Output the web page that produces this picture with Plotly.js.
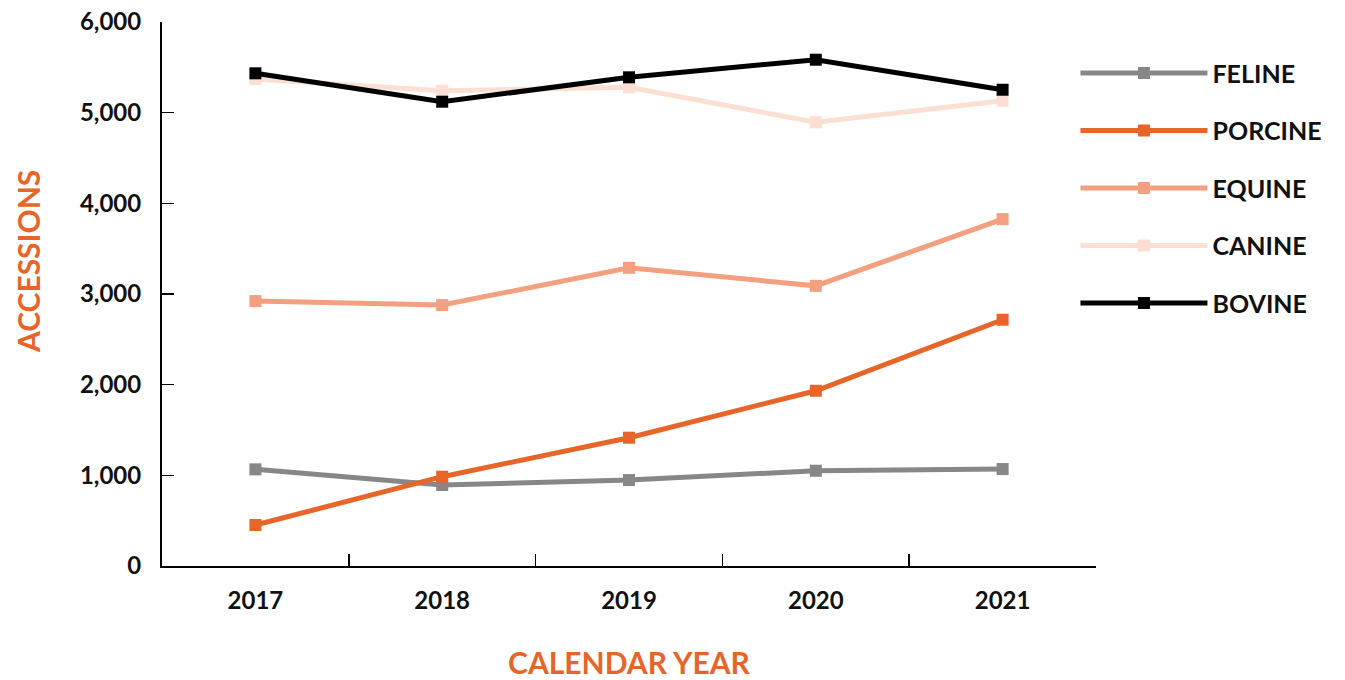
<!DOCTYPE html>
<html><head><meta charset="utf-8">
<script src="https://cdn.plot.ly/plotly-3.0.1.min.js"></script>
<style>body{margin:0;background:#fff}#chart{width:1345px;height:680px}</style>
</head><body><div id="chart"></div>
<script>
const years = ['2017','2018','2019','2020','2021'];
const feline  = [1066, 893, 948, 1051, 1069];
const porcine = [452, 985, 1415, 1933, 2716];
const equine  = [2922, 2878, 3289, 3090, 3826];
const canine  = [5371, 5242, 5280, 4894, 5132];
const bovine  = [5434, 5121, 5390, 5584, 5253];
const names = ['FELINE','PORCINE','EQUINE','CANINE','BOVINE'];
const colors = ['#878787','#E8652A','#F2A07F','#FBDFD3','#000000'];
const series = [feline, porcine, equine, canine, bovine];

const FONT = 'Lato, "Open Sans", sans-serif';
const traces = series.map((s,i)=>({
  type:'scatter', mode:'lines+markers', x:years, y:s, name:names[i],
  legendgroup:'g'+i,
  line:{color:colors[i], width:5},
  marker:{symbol:'square', size:12, color:colors[i]}
}));

const layout = {
  width:1345, height:680,
  margin:{l:162, r:249, t:22, b:114},
  paper_bgcolor:'#fff', plot_bgcolor:'#fff',
  font:{family:FONT, color:'#111'},
  showlegend:true,
  legend:{x:0.978, xanchor:'left', y:0.948, yanchor:'top', itemwidth:127,
    traceorder:'grouped', tracegroupgap:22,
    font:{family:FONT, size:25, color:'#111', weight:700}},
  xaxis:{type:'category', range:[-0.5,4.5], showgrid:false, zeroline:false,
    showline:true, linecolor:'#000', linewidth:2,
    ticks:'inside', tickson:'boundaries', ticklen:12, tickwidth:1.5, tickcolor:'#000',
    tickfont:{family:FONT, size:24, color:'#111', weight:700}, ticklabelstandoff:12,
    title:{text:'CALENDAR YEAR', font:{family:FONT, size:30, color:'#E8652A', weight:700}, standoff:42}},
  yaxis:{range:[0,6000], showgrid:false, zeroline:false,
    showline:true, linecolor:'#000', linewidth:2,
    ticks:'inside', ticklen:12, tickwidth:1.5, tickcolor:'#000',
    tickvals:[0,1000,2000,3000,4000,5000,6000], tickformat:',d',
    tickfont:{family:FONT, size:24, color:'#111', weight:700}, ticklabelstandoff:14},
  annotations:[{text:'ACCESSIONS', xref:'paper', yref:'paper', x:(28-162)/934, y:(566-262)/544,
    xanchor:'center', yanchor:'middle', textangle:-90, showarrow:false,
    font:{family:FONT, size:30, color:'#E8652A', weight:700}}]
};
Plotly.newPlot('chart', traces, layout, {displayModeBar:false, staticPlot:true});
</script></body></html>
